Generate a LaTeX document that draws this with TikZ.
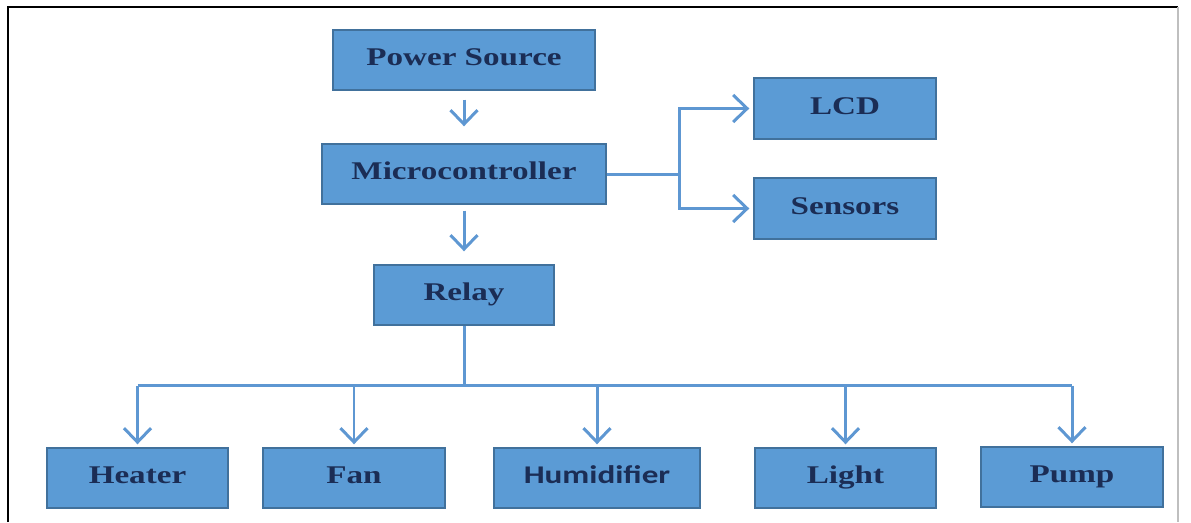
\documentclass[tikz,border=0pt]{standalone}
\usepackage{fontspec}
\setmainfont[FakeStretch=1.3]{Liberation Serif}
\newfontfamily\calfont[FakeStretch=1.3]{Carlito}
\usetikzlibrary{positioning,arrows.meta}
\definecolor{boxfill}{HTML}{5B9BD5}
\definecolor{boxedge}{HTML}{41719C}
\definecolor{boxtext}{HTML}{1B2D55}
\definecolor{linkblue}{HTML}{5E97D2}
\tikzset{
>={Straight Barb[length=2.8mm,width=5.4mm]}, % open v heads
node distance=2cm, % default spacing, overridden below
every node/.style={font=\fontsize{14.5}{17}\selectfont\bfseries,align=center,text=boxtext},
link/.style={draw=linkblue,line width=1.7pt},
on grid
}
\begin{document}
\begin{tikzpicture}[block/.style={rectangle, draw=boxedge, line width=0.8pt, fill=boxfill, minimum height=1.2cm, text height=1.6ex, text depth=0.2ex}]
   \useasboundingbox (0,0) rectangle (23.82,-10.44);
   % frame
   \draw[black, line width=1.1pt] (0.16,-10.44) -- (0.16,-0.14) -- (23.56,-0.14);
   \draw[black!25, line width=0.6pt] (23.56,-0.14) -- (23.56,-10.44);
   % top part
   \node[block, minimum width=5.24cm] (power) at (9.28,-1.20) {Power Source};
   \node[block, minimum width=5.68cm] (micro) [below=2.28cm of power] {Microcontroller};
   \node[block, minimum width=3.6cm]  (relay) [below=2.42cm of micro] {Relay};
   \node[block, minimum width=3.64cm, minimum height=1.22cm] (lcd) [right=7.62cm of micro, yshift=1.31cm] {LCD};
   \node[block, minimum width=3.64cm, minimum height=1.22cm] (sensors) [below=2cm of lcd] {Sensors};
   % bottom row
   \node[block, minimum width=3.62cm] (heater) at (2.75,-9.56) {Heater};
   \node[block, minimum width=3.64cm] (fan)    [right=4.33cm of heater] {Fan};
   \node[block, minimum width=4.12cm] (humid)  [right=4.86cm of fan] {\calfont\bfseries Humidifier};
   \node[block, minimum width=3.62cm] (light)  [right=4.97cm of humid] {Light};
   \node[block, minimum width=3.64cm] (pump)   [right=4.53cm of light, yshift=0.02cm] {Pump};
   \coordinate[right=1.46cm of micro.east] (fork);
   \coordinate[below=1.2cm of relay.south] (bus);
   \path[link,->]
    (power) edge[shorten <=0.18cm, shorten >=0.34cm] (micro)
    (micro) edge[shorten <=0.12cm, shorten >=0.26cm] (relay);
   \draw[link] (micro.east) -- (fork);
   \draw[link,->,shorten >=0.08cm] (fork) |- (lcd);
   \draw[link,->,shorten >=0.08cm] (fork) |- (sensors);
   \draw[link] (relay.south) -- (bus);
   \draw[link] (bus -| heater) -- (bus -| pump);
   \foreach \n in {heater,fan,humid,light,pump}
     \draw[link,->,shorten >=0.06cm] (bus -| \n) -- (\n.north);
\end{tikzpicture}
\end{document}
